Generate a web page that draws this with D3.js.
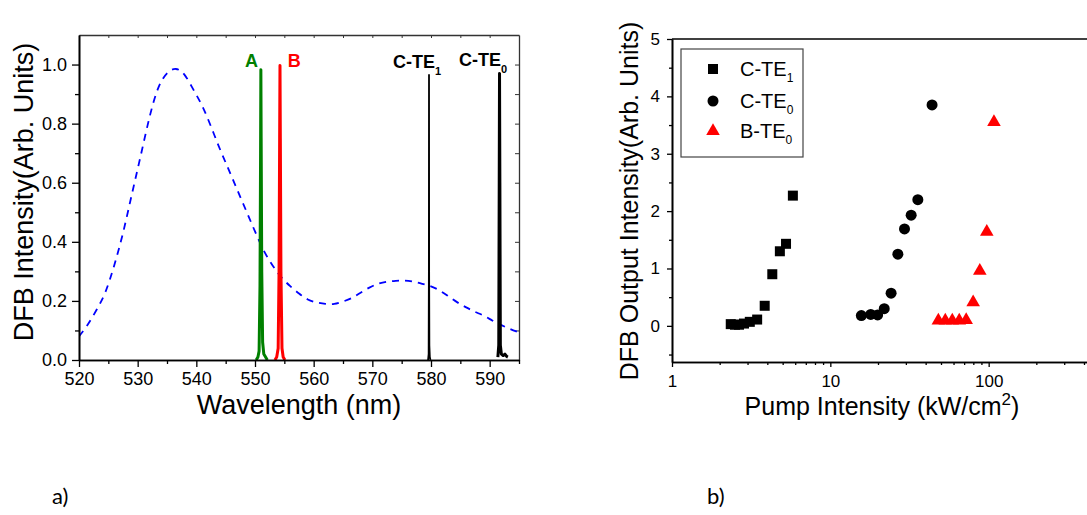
<!DOCTYPE html>
<html>
<head>
<meta charset="utf-8">
<script src="https://cdn.jsdelivr.net/npm/d3@7"></script>
<style>
  body { margin: 0; background: #fff; }
  svg { display: block; font-family: "Liberation Sans", Arial, sans-serif; }
</style>
</head>
<body>
<div id="chart"></div>
<script>
// ---- panel a) spectrum data ----
const pumpWl = [520, 521.5, 523, 524.5, 526, 527.5, 529, 530.5, 532, 533.5, 535, 536.5, 538, 539.5, 541, 542.5,
  544, 545.5, 547, 548.5, 550, 551.5, 553, 554.5, 556, 557.5, 559, 560.5, 562, 563.5, 565, 566.5, 568, 569.5,
  571, 572.5, 574, 575.5, 577, 578.5, 580, 581.5, 583, 584.5, 586, 587.5, 589, 590.5, 592, 593.5, 595];
const pumpI = [0.08, 0.12, 0.17, 0.23, 0.32, 0.43, 0.56, 0.69, 0.82, 0.92, 0.97, 0.985, 0.965, 0.915, 0.86, 0.79,
  0.715, 0.645, 0.575, 0.505, 0.435, 0.37, 0.32, 0.28, 0.25, 0.225, 0.205, 0.195, 0.19, 0.19, 0.198, 0.21, 0.228, 0.245,
  0.258, 0.265, 0.268, 0.269, 0.265, 0.258, 0.249, 0.235, 0.215, 0.195, 0.178, 0.163, 0.15, 0.133, 0.118, 0.105, 0.093];

const peakAWl = [550.2, 550.5, 550.7, 550.85, 550.95, 551.0, 551.05, 551.15, 551.3, 551.5, 551.8, 552.1];
const peakAI = [0, 0.01, 0.03, 0.25, 0.7, 0.982, 0.75, 0.3, 0.06, 0.02, 0.01, 0];
const peakBWl = [553.4, 553.7, 553.95, 554.1, 554.2, 554.26, 554.32, 554.42, 554.6, 554.8, 555.1];
const peakBI = [0, 0.01, 0.04, 0.3, 0.75, 0.997, 0.75, 0.3, 0.04, 0.01, 0];
const peakC1Wl = [579.5, 579.6, 579.64, 579.66, 579.68, 579.72, 579.8, 579.9];
const peakC1I = [0, 0.02, 0.3, 0.965, 0.3, 0.05, 0.01, 0];
const peakC0Wl = [591.4, 591.55, 591.63, 591.68, 591.74, 591.82, 592.0, 592.3, 592.6, 592.9, 593.1];
const peakC0I = [0.01, 0.05, 0.6, 0.97, 0.6, 0.05, 0.02, 0.015, 0.02, 0.012, 0.01];

// ---- panel b) threshold data ----
const cte1Pump = [2.35, 2.5, 2.65, 2.85, 3.1, 3.45, 3.85, 4.3, 4.8, 5.25, 5.8];
const cte1Out = [0.03, 0.02, 0.02, 0.04, 0.07, 0.11, 0.35, 0.9, 1.3, 1.43, 2.27];
const cte0Pump = [15.7, 18.0, 19.9, 21.9, 24.2, 26.7, 29.4, 32.4, 35.7, 43.9];
const cte0Out = [0.18, 0.2, 0.19, 0.3, 0.57, 1.25, 1.69, 1.93, 2.2, 3.85];
const bte0Pump = [48.1, 53.2, 58.9, 65.2, 72.1, 79.8, 87.9, 97.3, 108];
const bte0Out = [0.09, 0.09, 0.09, 0.09, 0.1, 0.41, 0.96, 1.64, 3.55];

const wlTicks = [520, 530, 540, 550, 560, 570, 580, 590];
const wlMinor = [525, 535, 545, 555, 565, 575, 585, 595];
const intTicks = [0, 0.2, 0.4, 0.6, 0.8, 1.0];
const intMinor = [0.1, 0.3, 0.5, 0.7, 0.9];
const pumpTicks = [1, 10, 100];
const pumpMinor = [2, 3, 4, 5, 6, 7, 8, 9, 20, 30, 40, 50, 60, 70, 80, 90, 200, 300, 400, 500, 600, 700, 800, 900];
const outTicks = [0, 1, 2, 3, 4, 5];
const outMinor = [-0.5, 0.5, 1.5, 2.5, 3.5, 4.5];

const svg = d3.select("#chart").append("svg").attr("width", 1087).attr("height", 515);

function zip(xs, ys) { return xs.map((x, i) => [x, ys[i]]); }

function styleAxis(g, size) {
  g.selectAll("text").style("font-size", size + "px").attr("fill", "#000");
  g.selectAll("line").attr("stroke", "#000").attr("stroke-width", 1.3);
  g.select(".domain").attr("stroke", "#000").attr("stroke-width", 1.6);
}

// ================= panel a =================
const a = { left: 79, right: 519, top: 35, bottom: 360 };
const x1 = d3.scaleLinear().domain([520, 595]).range([a.left, a.right]);
const y1 = d3.scaleLinear().domain([0, 1.1]).range([a.bottom, a.top]);

// frame top / right with inward ticks
svg.append("g").attr("transform", `translate(0,${a.top})`)
  .call(d3.axisBottom(x1).tickValues(d3.range(525, 595, 5)).tickSize(3).tickFormat("").tickSizeOuter(0))
  .call(g => { g.selectAll("line").attr("stroke", "#333"); g.select(".domain").attr("stroke", "#333").attr("stroke-width", 1.3); });
svg.append("g").attr("transform", `translate(${a.right},0)`)
  .call(d3.axisLeft(y1).tickValues(d3.range(0.1, 1.1, 0.1)).tickSize(4).tickFormat("").tickSizeOuter(0))
  .call(g => { g.selectAll("line").attr("stroke", "#333"); g.select(".domain").attr("stroke", "#333").attr("stroke-width", 1.3); });

svg.append("clipPath").attr("id", "clipA").append("rect")
  .attr("x", a.left).attr("y", a.top).attr("width", a.right - a.left).attr("height", a.bottom - a.top);

const plotA = svg.append("g").attr("clip-path", "url(#clipA)");

plotA.append("path").datum(zip(pumpWl, pumpI))
  .attr("d", d3.line().x(d => x1(d[0])).y(d => y1(d[1])).curve(d3.curveNatural))
  .attr("fill", "none").attr("stroke", "#0000ff").attr("stroke-width", 1.8)
  .attr("stroke-dasharray", "7,6");

const peaks = [
  { wl: peakAWl, i: peakAI, color: "#008000", w: 3 },
  { wl: peakBWl, i: peakBI, color: "#ff0000", w: 3 },
  { wl: peakC1Wl, i: peakC1I, color: "#000", w: 1.8 },
  { wl: peakC0Wl, i: peakC0I, color: "#000", w: 3 }
];
peaks.forEach(p => {
  plotA.append("path").datum(zip(p.wl, p.i))
    .attr("d", d3.line().x(d => x1(d[0])).y(d => y1(d[1])))
    .attr("fill", "none").attr("stroke", p.color).attr("stroke-width", p.w)
    .attr("stroke-linejoin", "round");
});

// peak labels
svg.append("text").attr("x", x1(549.4)).attr("y", 67).attr("text-anchor", "middle")
  .style("font-size", "18px").style("font-weight", "bold").attr("fill", "#008000").text("A");
svg.append("text").attr("x", x1(556.7)).attr("y", 67).attr("text-anchor", "middle")
  .style("font-size", "18px").style("font-weight", "bold").attr("fill", "#ff0000").text("B");
const c1 = svg.append("text").attr("x", 393).attr("y", 68).style("font-size", "18px").style("font-weight", "bold");
c1.append("tspan").text("C-TE");
c1.append("tspan").attr("dy", 7).style("font-size", "11px").text("1");
const c0 = svg.append("text").attr("x", 459).attr("y", 66).style("font-size", "18px").style("font-weight", "bold");
c0.append("tspan").text("C-TE");
c0.append("tspan").attr("dy", 7).style("font-size", "11px").text("0");

// axes a
svg.append("g").attr("transform", `translate(0,${a.bottom})`)
  .call(d3.axisBottom(x1).tickValues(wlMinor).tickSize(4).tickFormat("").tickSizeOuter(0))
  .call(g => styleAxis(g, 18));
svg.append("g").attr("transform", `translate(0,${a.bottom})`)
  .call(d3.axisBottom(x1).tickValues(wlTicks).tickSize(7).tickPadding(5).tickSizeOuter(0))
  .call(g => styleAxis(g, 18));
svg.append("g").attr("transform", `translate(${a.left},0)`)
  .call(d3.axisLeft(y1).tickValues(intMinor).tickSize(4).tickFormat("").tickSizeOuter(0))
  .call(g => styleAxis(g, 18));
svg.append("g").attr("transform", `translate(${a.left},0)`)
  .call(d3.axisLeft(y1).tickValues(intTicks).tickSize(7).tickPadding(5).tickFormat(d3.format(".1f")).tickSizeOuter(0))
  .call(g => styleAxis(g, 18));

svg.append("text").attr("x", (a.left + a.right) / 2).attr("y", 414).attr("text-anchor", "middle")
  .style("font-size", "27px").text("Wavelength (nm)");
svg.append("text").attr("transform", "rotate(-90)").attr("x", -192).attr("y", 33)
  .attr("text-anchor", "middle").style("font-size", "27px").text("DFB Intensity(Arb. Units)");

// ================= panel b =================
const b = { left: 672, right: 1147, top: 39, bottom: 362 };
const x2 = d3.scaleLog().domain([1, 1000]).range([b.left, b.right]);
const y2 = d3.scaleLinear().domain([-0.63, 5]).range([b.bottom, b.top]);

svg.append("line").attr("x1", b.left).attr("x2", b.right).attr("y1", b.top).attr("y2", b.top)
  .attr("stroke", "#000").attr("stroke-width", 1.3);

svg.append("g").attr("transform", `translate(0,${b.bottom})`)
  .call(d3.axisBottom(x2).tickValues(pumpMinor).tickSize(3).tickFormat("").tickSizeOuter(0))
  .call(g => styleAxis(g, 17));
svg.append("g").attr("transform", `translate(0,${b.bottom})`)
  .call(d3.axisBottom(x2).tickValues(pumpTicks).tickSize(5).tickPadding(8).tickFormat(d3.format("d")).tickSizeOuter(0))
  .call(g => styleAxis(g, 17));
svg.append("g").attr("transform", `translate(${b.left},0)`)
  .call(d3.axisLeft(y2).tickValues(outMinor).tickSize(3).tickFormat("").tickSizeOuter(0))
  .call(g => styleAxis(g, 17));
svg.append("g").attr("transform", `translate(${b.left},0)`)
  .call(d3.axisLeft(y2).tickValues(outTicks).tickSize(5).tickPadding(7).tickFormat(d3.format("d")).tickSizeOuter(0))
  .call(g => styleAxis(g, 17));

const plotB = svg.append("g");
plotB.selectAll(".sq").data(zip(cte1Pump, cte1Out)).enter().append("rect")
  .attr("class", "sq")
  .attr("x", d => x2(d[0]) - 5).attr("y", d => y2(d[1]) - 5)
  .attr("width", 10).attr("height", 10).attr("fill", "#000");
plotB.selectAll(".ci").data(zip(cte0Pump, cte0Out)).enter().append("circle")
  .attr("class", "ci")
  .attr("cx", d => x2(d[0])).attr("cy", d => y2(d[1])).attr("r", 5.5).attr("fill", "#000");
const tri = d3.symbol().type(d3.symbolTriangle).size(80);
plotB.selectAll(".tr").data(zip(bte0Pump, bte0Out)).enter().append("path")
  .attr("class", "tr")
  .attr("transform", d => `translate(${x2(d[0])},${y2(d[1])})`)
  .attr("d", tri).attr("fill", "#ff0000");

// legend
const legend = svg.append("g");
legend.append("rect").attr("x", 681).attr("y", 49).attr("width", 122).attr("height", 108)
  .attr("fill", "#fff").attr("stroke", "#444").attr("stroke-width", 1.2);
const legendItems = [
  { label: "C-TE", sub: "1", y: 69, type: "square" },
  { label: "C-TE", sub: "0", y: 101, type: "circle" },
  { label: "B-TE", sub: "0", y: 131, type: "triangle" }
];
legendItems.forEach(d => {
  if (d.type === "square") {
    legend.append("rect").attr("x", 708).attr("y", d.y - 5).attr("width", 10).attr("height", 10).attr("fill", "#000");
  } else if (d.type === "circle") {
    legend.append("circle").attr("cx", 713).attr("cy", d.y).attr("r", 5.5).attr("fill", "#000");
  } else {
    legend.append("path").attr("transform", `translate(713,${d.y})`).attr("d", tri).attr("fill", "#ff0000");
  }
  const t = legend.append("text").attr("x", 740).attr("y", d.y + 7).style("font-size", "20px");
  t.append("tspan").text(d.label);
  t.append("tspan").attr("dy", 6).style("font-size", "12px").text(d.sub);
});

const xl = svg.append("text").attr("x", 882).attr("y", 415).attr("text-anchor", "middle").style("font-size", "25px");
xl.append("tspan").text("Pump Intensity (kW/cm");
xl.append("tspan").attr("dy", -10).style("font-size", "17px").text("2");
xl.append("tspan").attr("dy", 10).text(")");
svg.append("text").attr("transform", "rotate(-90)").attr("x", -201).attr("y", 638)
  .attr("text-anchor", "middle").style("font-size", "25px").text("DFB Output Intensity(Arb. Units)");

// panel letters
svg.append("text").attr("x", 52).attr("y", 504).style("font-family", "Lato, 'Open Sans', sans-serif")
  .style("font-size", "22px").text("a)");
svg.append("text").attr("x", 707).attr("y", 504).style("font-family", "Lato, 'Open Sans', sans-serif")
  .style("font-size", "22px").text("b)");
</script>
</body>
</html>
